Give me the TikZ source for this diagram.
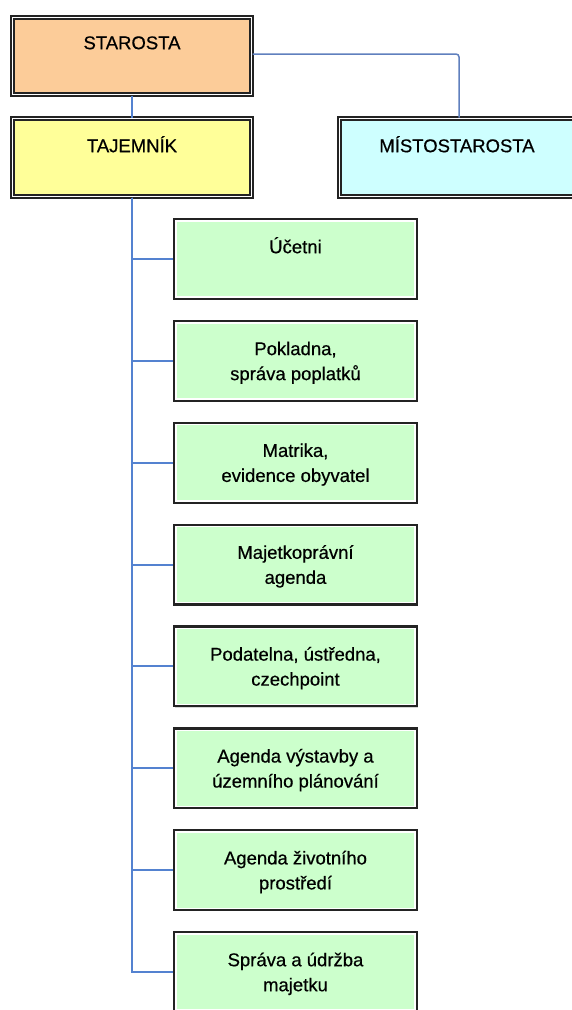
\documentclass[tikz,border=0pt]{standalone}
\usepackage{fontspec}
\setmainfont{Liberation Sans}
\newfontfamily\boxfont[RawFeature={embolden=0.5}]{Liberation Sans}
\usetikzlibrary{shadows}
\definecolor{peach}{RGB}{252,204,153}
\definecolor{lyellow}{RGB}{255,255,153}
\definecolor{lcyan}{RGB}{206,255,255}
\definecolor{lgreen}{RGB}{204,255,204}
\definecolor{linkblue}{RGB}{84,130,208}
\definecolor{linkblue2}{RGB}{96,128,190}
\definecolor{boxline}{RGB}{35,35,35}
\begin{document}
\begin{tikzpicture}[x=1pt,y=-1pt,
  topbox/.style={rectangle, draw=boxline, line width=1.8pt, double=white, double distance=1.2pt,
    minimum height=78.2pt, inner sep=0pt,
    drop shadow={shadow xshift=1.5pt, shadow yshift=-1.5pt, fill=black!40, opacity=0.5}},
  subbox/.style={rectangle, draw=boxline, line width=2.2pt, fill=lgreen, minimum width=242.8pt,
    minimum height=79.8pt, inner sep=0pt,
    drop shadow={shadow xshift=1.2pt, shadow yshift=-1.2pt, fill=black!40, opacity=0.4},
    path picture={\draw[white, line width=5pt] (path picture bounding box.south west) rectangle (path picture bounding box.north east);}},
  lbl/.style={anchor=north, align=center, inner sep=0pt, font=\boxfont\fontsize{18.5}{25}\selectfont},
  conn/.style={draw=linkblue, line width=2pt},
  conntop/.style={draw=linkblue2, line width=1.5pt, rounded corners=3pt},
]
\useasboundingbox (0,0) rectangle (572,1010);
\fill[white] (0,0) rectangle (572,1010);

% top level boxes
\node[topbox, fill=peach, minimum width=239.2pt, minimum height=77.2pt] (starosta) at (132,56) {};
\node[lbl] (tstarosta) at (132,31) {\rule{0pt}{18pt}STAROSTA};

\node[topbox, fill=lyellow, minimum width=239.2pt] (tajemnik) at (132,157.5) {};
\node[lbl] (ttajemnik) at (132,134) {\rule{0pt}{18pt}TAJEMNÍK};

\node[topbox, fill=lcyan, minimum width=235.2pt] (misto) at (457,157.5) {};
\node[lbl] (tmisto) at (457,134) {\rule{0pt}{18pt}MÍSTOSTAROSTA};

% departments
\node[subbox] (g1) at (295.5,259.0) {};
\node[lbl] (t1) at (295.5,235.0) {\rule{0pt}{18pt}Účetni};

\node[subbox] (g2) at (295.5,360.9) {};
\node[lbl] (t2) at (295.5,336.9) {\rule{0pt}{18pt}Pokladna,\\správa poplatků};

\node[subbox] (g3) at (295.5,462.7) {};
\node[lbl] (t3) at (295.5,438.7) {\rule{0pt}{18pt}Matrika,\\evidence obyvatel};

\node[subbox] (g4) at (295.5,564.6) {};
\node[lbl] (t4) at (295.5,540.6) {\rule{0pt}{18pt}Majetkoprávní\\agenda};

\node[subbox] (g5) at (295.5,666.4) {};
\node[lbl] (t5) at (295.5,642.4) {\rule{0pt}{18pt}Podatelna, ústředna,\\czechpoint};

\node[subbox] (g6) at (295.5,768.3) {};
\node[lbl] (t6) at (295.5,744.3) {\rule{0pt}{18pt}Agenda výstavby a\\územního plánování};

\node[subbox] (g7) at (295.5,870.2) {};
\node[lbl] (t7) at (295.5,846.2) {\rule{0pt}{18pt}Agenda životního\\prostředí};

\node[subbox] (g8) at (295.5,972.0) {};
\node[lbl] (t8) at (295.5,948.0) {\rule{0pt}{18pt}Správa a údržba\\majetku};

% connectors
\draw[conntop] ([yshift=2pt]starosta.east) -| ([xshift=2pt]misto.north);
\draw[conn, line width=1.5pt] (starosta.south) -- (tajemnik.north);
\foreach \g in {g1,g2,g3,g4,g5,g6,g7,g8}
  \draw[conn] (tajemnik.south) |- (\g.west);
\end{tikzpicture}
\end{document}
